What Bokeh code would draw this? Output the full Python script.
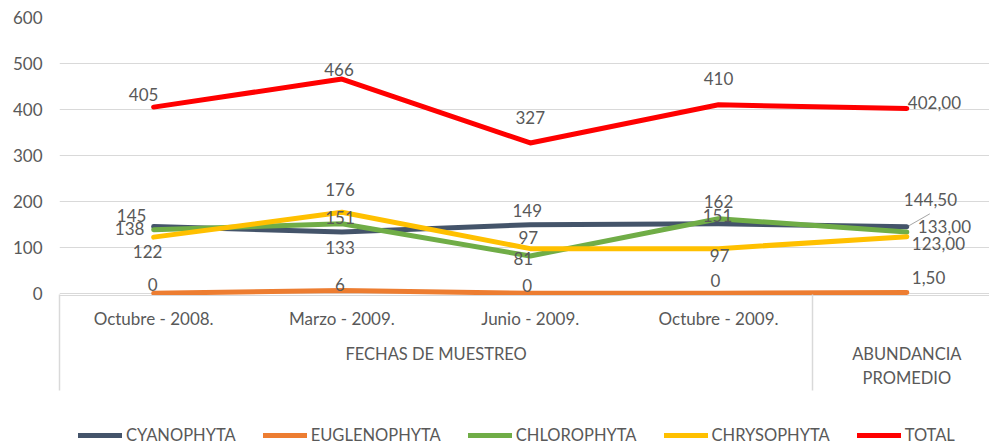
from bokeh.plotting import figure
from bokeh.layouts import column
from bokeh.models import Range1d, LinearAxis, FixedTicker, Legend, LegendItem, ColumnDataSource
from bokeh.core.properties import value
from bokeh.embed import file_html
from bokeh.resources import INLINE

# ---------------- data ----------------
fechas = ["Octubre - 2008.", "Marzo - 2009.", "Junio - 2009.", "Octubre - 2009.", ""]
grupos = ["FECHAS DE MUESTREO", "ABUNDANCIA\nPROMEDIO"]
series_names = ["CYANOPHYTA", "EUGLENOPHYTA", "CHLOROPHYTA", "CHRYSOPHYTA", "TOTAL"]
cyanophyta = [145, 133, 149, 151, 144.5]
euglenophyta = [0, 6, 0, 0, 1.5]
chlorophyta = [138, 151, 81, 162, 133]
chrysophyta = [122, 176, 97, 97, 123]
total = [405, 466, 327, 410, 402]
y_ticks = [0, 100, 200, 300, 400, 500, 600]

# ---------------- styles ----------------
colors = ["#44546A", "#ED7D31", "#70AD47", "#FFC000", "#FF0000"]
FONT = "Lato"
TXT = "#595959"
GRID = "#D9D9D9"

# label offsets in px (dx, dy, align) per series / point
label_style = [
    [(-22, -11, "center"), (-2, 15, "center"), (-3, -14, "center"), (-1, -8, "center"), (-3, -27, "left")],
    [(-1, -9, "center"), (-2, -6, "center"), (-3, -8, "center"), (-3, -13, "center"), (5, -15, "left")],
    [(-24, -1, "center"), (-2, -6, "center"), (-7, 3, "center"), (0, -17, "center"), (11, -6, "left")],
    [(-6, 14, "center"), (-2, -23, "center"), (-2, -11, "center"), (1, 7, "center"), (5, 7, "left")],
    [(-10, -13, "center"), (-3, -10, "center"), (0, -25, "center"), (0, -26, "center"), (1, -6, "left")],
]

W, H, H2 = 989, 424, 24
ML, MT, MB = 59, 17, 129
X0, X1 = 0, 4.939
Y0, Y1 = -5, 600
px_x = (W - ML) / (X1 - X0)
px_y = (H - MT - MB) / (Y1 - Y0)

p = figure(width=W, height=H, output_backend="svg", toolbar_location=None,
           x_range=Range1d(X0, X1), y_range=Range1d(Y0, Y1),
           x_axis_location=None,
           min_border_left=ML, min_border_right=0, min_border_top=MT, min_border_bottom=MB)
p.outline_line_color = None
p.background_fill_color = "white"
p.border_fill_color = "white"
p.xgrid.visible = False
p.ygrid.ticker = FixedTicker(ticks=y_ticks)
p.ygrid.grid_line_color = GRID
p.ygrid.grid_line_width = 1

ya = p.yaxis[0]
ya.ticker = FixedTicker(ticks=y_ticks)
ya.axis_line_color = None
ya.major_tick_line_color = None
ya.minor_tick_line_color = None
ya.major_tick_out = 0
ya.major_tick_in = 0
ya.major_label_standoff = 17
ya.major_label_text_font = FONT
ya.major_label_text_font_size = "17px"
ya.major_label_text_color = TXT

xs = [i + 0.5 for i in range(len(fechas))]

# category axis (first level)
ax1 = LinearAxis(ticker=FixedTicker(ticks=xs[:4], minor_ticks=[]))
ax1.major_label_overrides = {float(x): f for x, f in zip(xs[:4], fechas[:4])}
ax1.axis_line_color = GRID
ax1.major_tick_out = 0
ax1.major_tick_in = 0
ax1.major_tick_line_color = None
ax1.minor_tick_line_color = None
ax1.minor_tick_out = 0
ax1.minor_tick_in = 0
ax1.major_label_standoff = 12
ax1.major_label_text_font = FONT
ax1.major_label_text_font_size = "17px"
ax1.major_label_text_color = TXT
p.add_layout(ax1, "below")

# group axis (second level)
ax2 = LinearAxis(ticker=FixedTicker(ticks=[2.0, 4.5], minor_ticks=[]))
ax2.major_label_overrides = {2.0: grupos[0], 4.5: grupos[1]}
ax2.axis_line_color = None
ax2.major_tick_line_color = None
ax2.minor_tick_line_color = None
ax2.major_tick_out = 0
ax2.major_tick_in = 0
ax2.minor_tick_out = 0
ax2.minor_tick_in = 0
ax2.major_label_standoff = 12
ax2.major_label_text_font = FONT
ax2.major_label_text_font_size = "16.5px"
ax2.major_label_text_color = TXT
ax2.major_label_text_line_height = 1.2
p.add_layout(ax2, "below")

# separator axis (vertical group dividers drawn as inward ticks)
ax3 = LinearAxis(ticker=FixedTicker(ticks=[0, 4], minor_ticks=[]))
ax3.axis_line_color = None
ax3.major_tick_out = 0
ax3.major_tick_in = 96
ax3.major_tick_line_color = GRID
ax3.major_tick_line_width = 1.5
ax3.minor_tick_line_color = None
ax3.minor_tick_out = 0
ax3.minor_tick_in = 0
ax3.major_label_standoff = 0
ax3.major_label_text_font_size = "4px"
ax3.major_label_text_alpha = 0
p.add_layout(ax3, "below")

all_series = [cyanophyta, euglenophyta, chlorophyta, chrysophyta, total]
for vals, col in zip(all_series, colors):
    p.line(xs, vals, line_color=col, line_width=5, line_join="round", line_cap="round")

# leader line for 144,50
lead_dx, lead_dy = 23, 13
p.segment(x0=[xs[4] + 2 / px_x], y0=[cyanophyta[4] + 1 / px_y],
          x1=[xs[4] + lead_dx / px_x], y1=[cyanophyta[4] + lead_dy / px_y],
          line_color="#A6A6A6", line_width=1)

def fmt(v, i):
    return f"{v:.2f}".replace(".", ",") if i == 4 else f"{v:.0f}"

for align in ["center", "left"]:
    d = dict(x=[], y=[], text=[], dx=[], dy=[])
    for vals, styles in zip(all_series, label_style):
        for i, (v, st) in enumerate(zip(vals, styles)):
            if st[2] != align:
                continue
            d["x"].append(xs[i]); d["y"].append(v); d["text"].append(fmt(v, i))
            d["dx"].append(st[0]); d["dy"].append(st[1])
    p.text(x="x", y="y", text="text", x_offset="dx", y_offset="dy", source=ColumnDataSource(d),
           text_align=align, text_baseline="middle", text_font=value(FONT),
           text_font_size="17px", text_color=TXT)

# ---------------- legend strip ----------------
# same series drawn out of view, only used for the legend
p2 = figure(width=W, height=H2, output_backend="svg", toolbar_location=None,
            x_range=Range1d(X0, X1), y_range=Range1d(1000, 1001),
            x_axis_location=None, y_axis_location=None,
            min_border_left=0, min_border_right=0, min_border_top=0, min_border_bottom=0)
p2.outline_line_color = None
p2.xgrid.visible = False
p2.ygrid.visible = False
leg_renderers = [p2.line(xs, vals, line_color=col, line_width=5, line_cap="round")
                 for vals, col in zip(all_series, colors)]
legend = Legend(items=[LegendItem(label=n, renderers=[r]) for n, r in zip(series_names, leg_renderers)],
                orientation="horizontal", location=(19, 3))
legend.padding = 0
legend.margin = 0
legend.border_line_color = None
legend.background_fill_alpha = 0
legend.glyph_width = 44
legend.glyph_height = 16
legend.label_standoff = 4
legend.spacing = 27
legend.label_text_font = FONT
legend.label_text_font_size = "16.5px"
legend.label_text_color = TXT
p2.add_layout(legend, "center")

open("out.html", "w").write(file_html(column(p, p2, spacing=0), INLINE))
